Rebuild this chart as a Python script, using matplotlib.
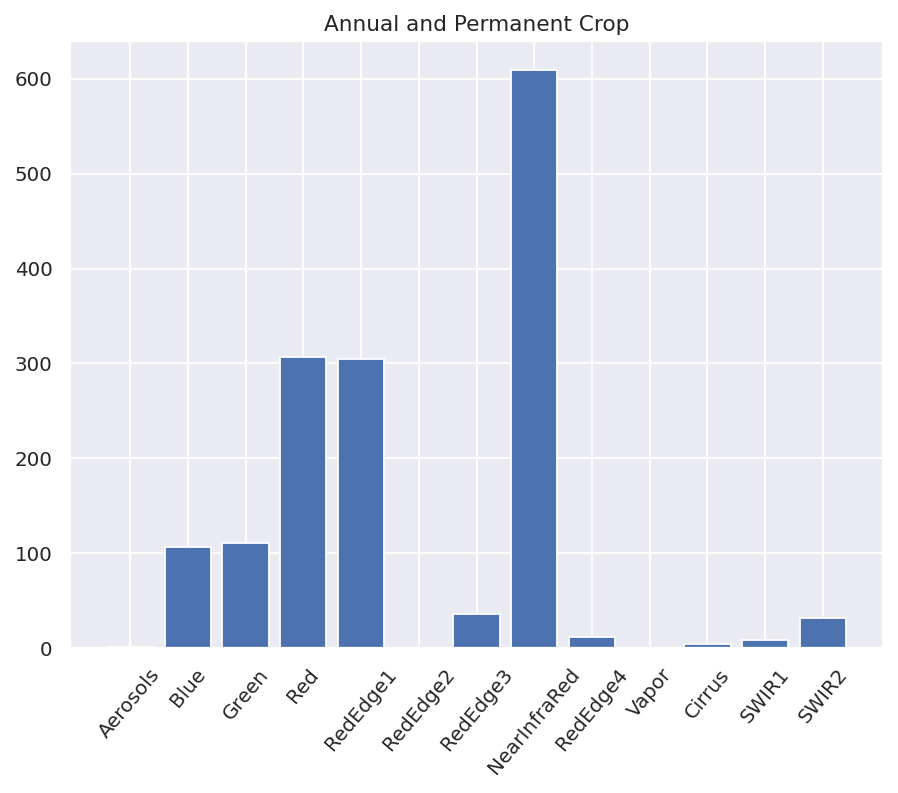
import matplotlib

matplotlib.use("Agg")

import matplotlib.pyplot as plt
import seaborn as sns

BANDS = [
    "Aerosols", "Blue", "Green", "Red", "RedEdge1", "RedEdge2", "RedEdge3",
    "NearInfraRed", "RedEdge4", "Vapor", "Cirrus", "SWIR1", "SWIR2",
]
VALUES = [1.0, 106.0, 111.0, 307.0, 305.0, 0.3, 36.0, 609.0, 11.5, 0.3, 4.0, 8.5, 32.0]
TITLE = "Annual and Permanent Crop"

DPI = 130

sns.set_theme()
plt.rcParams["font.family"] = ["DejaVu Sans"]

fig = plt.figure(figsize=(898 / DPI, 793 / DPI), dpi=DPI)
# axes box in pixels: left 70, right 883, top 41.5, bottom 648
ax = fig.add_axes([70 / 898, 1 - 648 / 793, 813 / 898, 606.5 / 793])
ax.bar(BANDS, VALUES, color="#4c72b0")
ax.set_title(TITLE)
ax.tick_params(axis="x", labelrotation=50)
fig.savefig("out.png", dpi=DPI)
